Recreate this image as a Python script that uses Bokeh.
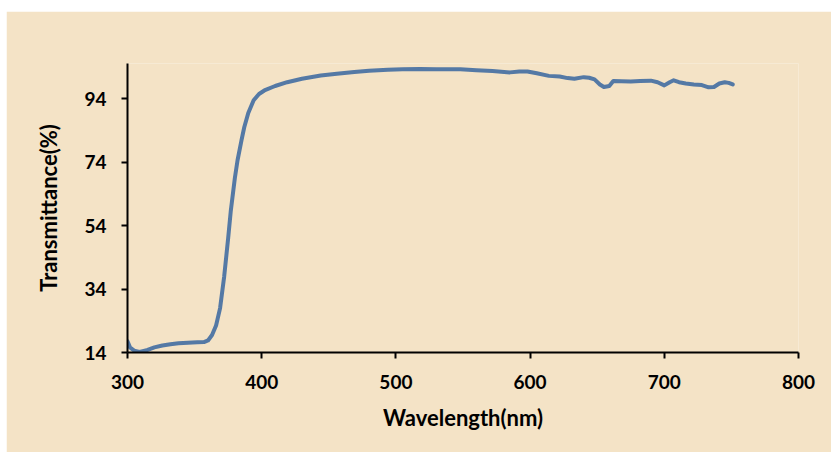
from bokeh.plotting import figure
from bokeh.models import FixedTicker, Range1d, Spacer
from bokeh.layouts import column, row
from bokeh.embed import file_html
from bokeh.resources import INLINE

# Data
wavelength = [300, 302, 305, 309, 315, 320, 326, 332, 338, 345, 352, 357, 360, 363, 366,
              369, 372, 375, 377, 380, 382, 385, 387, 390, 394, 398, 402, 410, 419, 430,
              444, 456, 469, 480, 494, 505, 518, 530, 548, 560, 572, 585, 592, 598, 605,
              614, 622, 628, 633, 640, 644, 648, 652, 655, 659, 662, 668, 675, 682, 690,
              695, 700, 704, 707, 711, 716, 722, 728, 733, 737, 741, 745, 748, 751]
transmittance = [17.5, 15.5, 14.6, 14.2, 14.8, 15.6, 16.2, 16.6, 16.9, 17.1, 17.2, 17.3, 17.8, 19.5, 22.5,
                 28.0, 37.8, 50.0, 58.8, 69.0, 74.6, 81.0, 85.0, 89.5, 93.5, 95.5, 96.6, 98.0, 99.2, 100.3,
                 101.3, 101.9, 102.4, 102.8, 103.1, 103.3, 103.4, 103.3, 103.3, 103.0, 102.7, 102.3, 102.6, 102.6, 102.0,
                 101.2, 101.0, 100.5, 100.3, 100.8, 100.6, 100.1, 98.5, 97.7, 98.0, 99.6, 99.5, 99.4, 99.6, 99.7,
                 99.2, 98.2, 99.2, 99.8, 99.2, 98.8, 98.5, 98.3, 97.6, 97.7, 98.8, 99.2, 99.0, 98.5]
x_ticks = [300, 400, 500, 600, 700, 800]
y_ticks = [14, 34, 54, 74, 94]

BG = "#F4E3C6"
FONT = "Lato"

p = figure(width=825, height=441, output_backend="svg", toolbar_location=None,
           x_range=Range1d(300, 800), y_range=Range1d(14, 105.1),
           min_border_left=121, min_border_right=33, min_border_top=52, min_border_bottom=100)
p.background_fill_color = BG
p.border_fill_color = BG
p.outline_line_color = None
p.grid.visible = False

p.line(wavelength, transmittance, line_color="#4B73A3", line_width=4, line_alpha=0.95,
       line_join="round", line_cap="round")

for ax in (p.xaxis[0], p.yaxis[0]):
    ax.axis_line_color = "black"
    ax.axis_line_width = 2
    ax.major_tick_line_color = "black"
    ax.major_tick_line_width = 2
    ax.major_tick_out = 6
    ax.major_tick_in = 0
    ax.minor_tick_line_color = None
    ax.major_label_text_font = FONT
    ax.major_label_text_font_style = "bold"
    ax.major_label_text_font_size = "19px"
    ax.major_label_text_color = "black"
    ax.axis_label_text_font = FONT
    ax.axis_label_text_font_style = "bold"
    ax.axis_label_text_font_size = "22px"
    ax.axis_label_text_color = "black"

p.xaxis.ticker = FixedTicker(ticks=x_ticks)
p.yaxis.ticker = FixedTicker(ticks=y_ticks)
p.xaxis.axis_label = "Wavelength(nm)"
p.yaxis.axis_label = "Transmittance(%)"
p.xaxis.major_label_standoff = 16
p.yaxis.major_label_standoff = 15
p.xaxis.axis_label_standoff = 12
p.yaxis.axis_label_standoff = 19

layout = column(Spacer(height=11), row(Spacer(width=6), p))
open("out.html", "w").write(file_html(layout, INLINE))
